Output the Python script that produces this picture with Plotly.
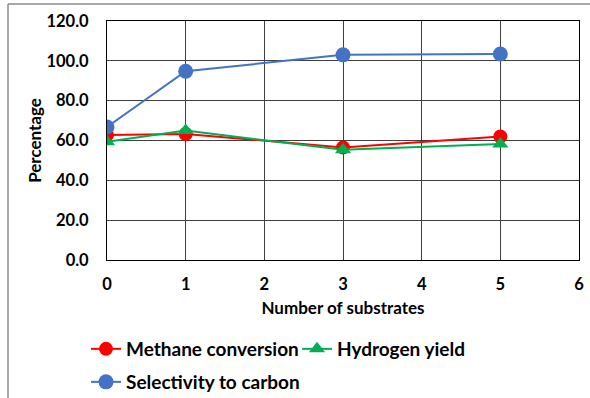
import plotly.graph_objects as go

substrates = [0, 1, 3, 5]
methane_conversion = [62.8, 63.3, 56.5, 62.0]
hydrogen_yield = [59.4, 65.0, 55.3, 58.3]
selectivity_carbon = [66.8, 94.8, 103.0, 103.4]

x_ticks = [0, 1, 2, 3, 4, 5, 6]
y_ticks = [0, 20, 40, 60, 80, 100, 120]

FONT = "Lato"
W, H = 590, 398
L, R, T, B = 107, 11, 21, 138

fig = go.Figure()

fig.add_trace(go.Scatter(
    x=substrates, y=methane_conversion, name="Methane conversion",
    mode="lines+markers", line=dict(color="#FF0000", width=2),
    marker=dict(symbol="circle", size=14, color="#FF0000"),
    legend="legend",
))
fig.add_trace(go.Scatter(
    x=substrates, y=hydrogen_yield, name="Hydrogen yield",
    mode="lines+markers", line=dict(color="#00B050", width=2),
    marker=dict(symbol="triangle-up", size=14, color="#00B050"),
    legend="legend",
))
fig.add_trace(go.Scatter(
    x=substrates, y=selectivity_carbon, name="Selectivity to carbon",
    mode="lines+markers", line=dict(color="#4472C4", width=2),
    marker=dict(symbol="circle", size=15, color="#4472C4"),
    legend="legend2",
))

pw, ph = W - L - R, H - T - B

def px(xp):
    return (xp - L) / pw

def py(yp):
    return (H - B - yp) / ph

tick_font = dict(family=FONT, size=16.5, color="#000000", weight="bold")
title_font = dict(family=FONT, size=17, color="#000000", weight="bold")
legend_font = dict(family=FONT, size=19, color="#000000", weight="bold")

fig.update_layout(
    width=W, height=H,
    margin=dict(l=L, r=R, t=T, b=B, autoexpand=False),
    paper_bgcolor="white", plot_bgcolor="white",
    font=dict(family=FONT, color="#000000"),
    xaxis=dict(
        range=[0, 6], tickvals=x_ticks, ticktext=[str(v) for v in x_ticks],
        showgrid=True, gridcolor="#404040", gridwidth=1,
        showline=True, linecolor="#000000", linewidth=1, mirror=True,
        zeroline=False, ticks="", ticklabelstandoff=9,
        tickfont=tick_font,
        title=dict(text="Number of substrates", standoff=9, font=title_font),
    ),
    yaxis=dict(
        range=[0, 120], tickvals=y_ticks, tickformat=".1f",
        showgrid=True, gridcolor="#404040", gridwidth=1,
        showline=True, linecolor="#000000", linewidth=1, mirror=True,
        zeroline=False, ticks="", ticklabelstandoff=14,
        tickfont=tick_font,
        title=dict(text="Percentage", standoff=0, font=title_font),
    ),
    legend=dict(
        orientation="h", x=px(86), y=py(330), xanchor="left", yanchor="top",
        entrywidth=166, entrywidthmode="pixels",
        font=legend_font, bgcolor="rgba(0,0,0,0)", itemclick=False,
    ),
    legend2=dict(
        orientation="h", x=px(86), y=py(363), xanchor="left", yanchor="top",
        font=legend_font, bgcolor="rgba(0,0,0,0)", itemclick=False,
    ),
    shapes=[
        dict(type="line", xref="paper", yref="paper",
             x0=px(8), x1=px(600), y0=py(4), y1=py(4),
             line=dict(color="#8a8a8a", width=1.5)),
        dict(type="line", xref="paper", yref="paper",
             x0=px(8), x1=px(8), y0=py(4), y1=py(410),
             line=dict(color="#8a8a8a", width=1.5)),
    ],
)

fig.write_html("out.html")
